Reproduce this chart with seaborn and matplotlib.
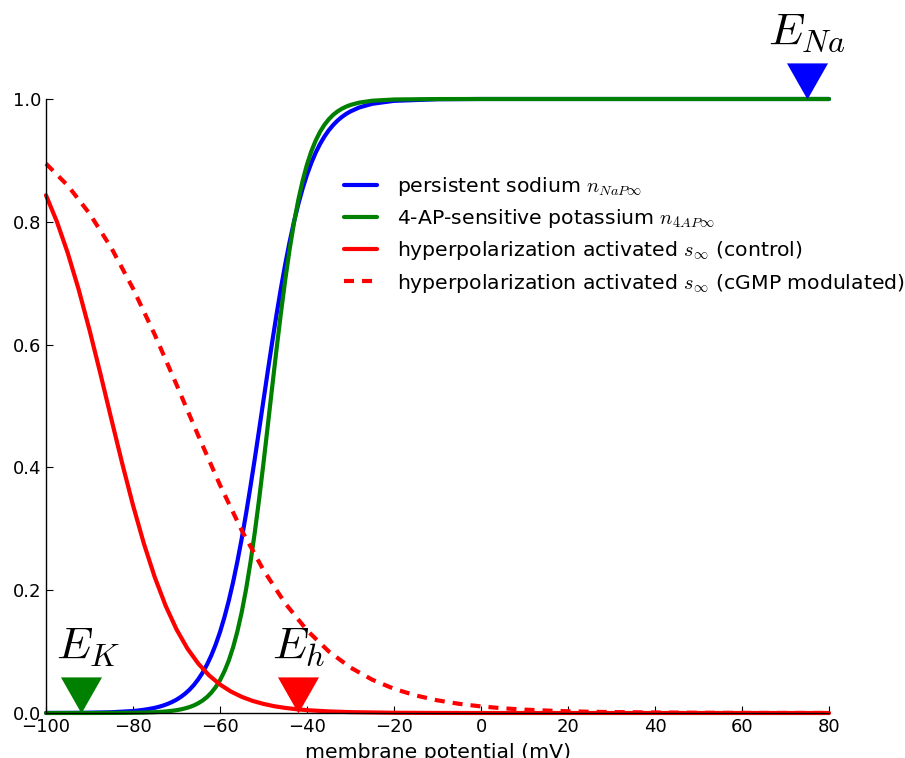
import numpy as np
import pandas as pd
import matplotlib
matplotlib.use("Agg")
import matplotlib.pyplot as plt
import seaborn as sns

# Steady-state gating variables versus membrane potential (mV)
voltage_gating = [-100, -95, -90, -85,
                  -80, -79, -78, -77, -76, -75, -74, -73, -72, -71,
                  -70, -69, -68, -67, -66, -65, -64, -63, -62, -61,
                  -60, -59, -58, -57, -56, -55, -54, -53, -52, -51,
                  -50, -49, -48, -47, -46, -45, -44, -43, -42, -41,
                  -40, -39, -38, -37, -36, -35, -34, -33, -32, -31,
                  -30, -28, -25, -20, -10, 0, 20, 40, 60, 80]

n_nap = [0.0001, 0.0002, 0.0005, 0.0012,
         0.0032, 0.0039, 0.0048, 0.0058, 0.0070, 0.0084, 0.0102, 0.0123, 0.0149, 0.0180,
         0.0217, 0.0262, 0.0316, 0.0380, 0.0457, 0.0549, 0.0657, 0.0786, 0.0937, 0.1114,
         0.1318, 0.1555, 0.1824, 0.2128, 0.2470, 0.2843, 0.3250, 0.3687, 0.4143, 0.4616,
         0.5096, 0.5574, 0.6042, 0.6492, 0.6916, 0.7311, 0.7672, 0.7997, 0.8288, 0.8543,
         0.8767, 0.8960, 0.9127, 0.9268, 0.9388, 0.9490, 0.9575, 0.9647, 0.9707, 0.9757,
         0.9798, 0.9862, 0.9922, 0.9970, 0.9996, 1.0, 1.0, 1.0, 1.0, 1.0]

n_4ap = [0.0, 0.0, 0.0, 0.0001,
         0.0004, 0.0005, 0.0006, 0.0008, 0.0010, 0.0013, 0.0017, 0.0022, 0.0028, 0.0036,
         0.0046, 0.0059, 0.0076, 0.0097, 0.0124, 0.0159, 0.0203, 0.0259, 0.0331, 0.0421,
         0.0534, 0.0676, 0.0851, 0.1067, 0.1330, 0.1645, 0.2018, 0.2451, 0.2943, 0.3487,
         0.4073, 0.4688, 0.5312, 0.5927, 0.6513, 0.7057, 0.7549, 0.7982, 0.8355, 0.8670,
         0.8933, 0.9149, 0.9324, 0.9466, 0.9579, 0.9669, 0.9741, 0.9797, 0.9841, 0.9876,
         0.9903, 0.9941, 0.9972, 0.9992, 0.9999, 1.0, 1.0, 1.0, 1.0, 1.0]

voltage_h_control = [-100, -97.5, -95, -92.5, -90, -87.5, -85, -82.5, -80, -77.5,
                     -75, -72.5, -70, -67.5, -65, -62.5, -60, -57.5, -55, -52.5,
                     -50, -47.5, -45, -42.5, -40, -35, -30, -20, -10, 0, 20, 40, 60, 80]

s_control = [0.8432, 0.8003, 0.7492, 0.6900, 0.6238, 0.5528, 0.4794, 0.4070, 0.3384, 0.2759,
             0.2212, 0.1747, 0.1362, 0.1051, 0.0805, 0.0612, 0.0464, 0.0350, 0.0263, 0.0197,
             0.0148, 0.0110, 0.0083, 0.0062, 0.0046, 0.0026, 0.0014, 0.0004, 0.0001, 0.0,
             0.0, 0.0, 0.0, 0.0]

voltage_h_cgmp = [-100, -95, -90, -85, -80, -75, -70, -65, -60, -55,
                  -50, -45, -40, -35, -30, -25, -20, -15, -10, -5,
                  0, 5, 10, 15, 20, 25, 30, 40, 50, 60, 70, 80]

s_cgmp = [0.8947, 0.8590, 0.8135, 0.7577, 0.6914, 0.6162, 0.5349, 0.4518, 0.3713, 0.2973,
          0.2327, 0.1785, 0.1347, 0.1003, 0.0740, 0.0542, 0.0394, 0.0286, 0.0206, 0.0149,
          0.0107, 0.0077, 0.0055, 0.0040, 0.0028, 0.0020, 0.0015, 0.0008, 0.0004, 0.0002,
          0.0001, 0.0001]

# Reversal potentials (mV) and the level their markers point to
reversal_names = ["$E_K$", "$E_h$", "$E_{Na}$"]
reversal_mv = [-92, -42, 75]
reversal_level = [0.0, 0.0, 1.0]
reversal_colors = ["green", "red", "blue"]

x_ticks = [-100, -80, -60, -40, -20, 0, 20, 40, 60, 80]
y_ticks = [0.0, 0.2, 0.4, 0.6, 0.8, 1.0]

sns.set_theme(style="ticks")
plt.rcParams.update({
    "font.family": ["DejaVu Sans"],
    "mathtext.fontset": "cm",
    "font.size": 13,
    "text.color": "black",
    "axes.labelcolor": "black",
    "xtick.direction": "in",
    "ytick.direction": "in",
    "xtick.major.size": 5,
    "ytick.major.size": 5,
    "xtick.major.width": 0.8,
    "ytick.major.width": 0.8,
    "xtick.color": "black",
    "ytick.color": "black",
    "axes.edgecolor": "black",
    "axes.linewidth": 1.0,
    "lines.scale_dashes": False,
})

dash_style = (0, (7.2, 5.8))

fig = plt.figure(figsize=(9.05, 7.58), dpi=100)
ax = fig.add_axes([46 / 905, 45 / 758, (829 - 46) / 905, (713 - 99) / 758])

gating = pd.DataFrame({"V": voltage_gating, "nap": n_nap, "k4ap": n_4ap})
h_ctrl = pd.DataFrame({"V": voltage_h_control, "s": s_control})
h_cgmp = pd.DataFrame({"V": voltage_h_cgmp, "s": s_cgmp})

lw = 3
sns.lineplot(data=gating, x="V", y="nap", ax=ax, color="blue", lw=lw,
             label=r"persistent sodium $n_{NaP\infty}$", clip_on=False, errorbar=None)
sns.lineplot(data=gating, x="V", y="k4ap", ax=ax, color="green", lw=lw,
             label=r"4-AP-sensitive potassium $n_{4AP\infty}$", clip_on=False, errorbar=None)
sns.lineplot(data=h_ctrl, x="V", y="s", ax=ax, color="red", lw=lw,
             label=r"hyperpolarization activated $s_\infty$ (control)", clip_on=False, errorbar=None)
sns.lineplot(data=h_cgmp, x="V", y="s", ax=ax, color="red", lw=lw,
             label=r"hyperpolarization activated $s_\infty$ (cGMP modulated)", clip_on=False,
             errorbar=None)
ax.lines[-1].set_linestyle(dash_style)

# Downward triangles whose tips sit at the reversal potentials
tri = [(-1.0, 1.76), (1.0, 1.76), (0.0, 0.0), (-1.0, 1.76)]
label_shift = [5, 0, 0]
for name, e, lvl, col, dx in zip(reversal_names, reversal_mv, reversal_level,
                                 reversal_colors, label_shift):
    ax.plot([e], [lvl], marker=tri, markersize=52, color=col, markeredgewidth=0,
            linestyle="none", clip_on=False, zorder=5)
    ax.annotate(name, xy=(e, lvl + 0.088), xytext=(dx, 0), textcoords="offset points",
                fontsize=33, ha="center", va="baseline", color="black",
                annotation_clip=False, zorder=6)

ax.set_xlim(-100, 80)
ax.set_ylim(0, 1)
ax.set_xticks(x_ticks)
ax.set_yticks(y_ticks)
ax.set_yticklabels([f"{t:.1f}" for t in y_ticks])
ax.set_xlabel("membrane potential (mV)", fontsize=14.7, labelpad=5)
ax.set_ylabel("")
ax.tick_params(labelsize=13, top=False, right=False)
sns.despine(ax=ax)

leg = ax.legend(loc="upper left", bbox_to_anchor=(344 / 905, 1 - 175 / 758),
                bbox_transform=fig.transFigure, frameon=False, fontsize=14.7,
                handlelength=1.62, handletextpad=0.98, labelspacing=0.45,
                borderaxespad=0, borderpad=0)
leg.get_lines()[-1].set_linestyle(dash_style)

fig.savefig("out.png", dpi=100)
